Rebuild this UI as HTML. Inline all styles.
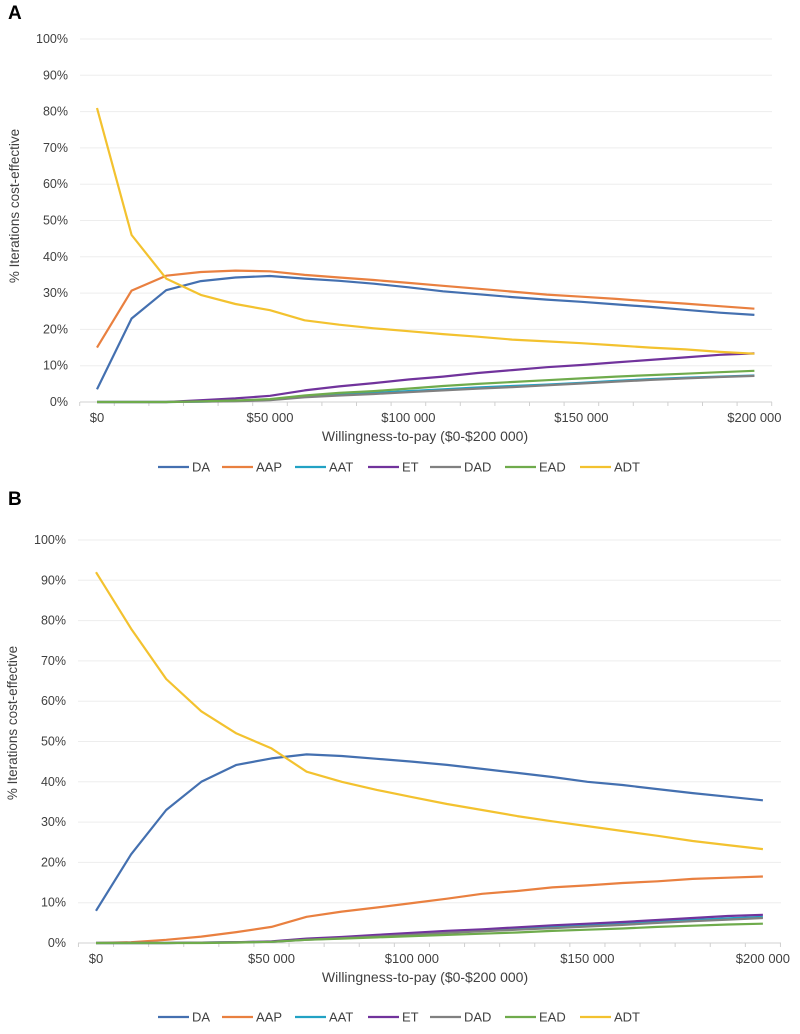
<!DOCTYPE html>
<html><head><meta charset="utf-8"><style>
body{margin:0;background:#fff;width:800px;height:1029px;overflow:hidden;font-family:"Liberation Sans",sans-serif}
svg text{font-family:"Liberation Sans",sans-serif;fill:#404040}
</style></head><body>
<svg id="chart" width="800" height="1029" viewBox="0 0 800 1029" xmlns="http://www.w3.org/2000/svg"></svg>
<script>
const categories = ["$0","$10 000","$20 000","$30 000","$40 000","$50 000","$60 000","$70 000","$80 000","$90 000","$100 000","$110 000","$120 000","$130 000","$140 000","$150 000","$160 000","$170 000","$180 000","$200 000"];
const seriesNames = ["DA","AAP","AAT","ET","DAD","EAD","ADT"];
const yTickLabels = ["0%","10%","20%","30%","40%","50%","60%","70%","80%","90%","100%"];
const xTickLabels = ["$0","$50 000","$100 000","$150 000","$200 000"];
const xTickIndex = [0,5,9,14,19];

const aDA  = [3.5,23,30.8,33.3,34.3,34.7,34,33.4,32.6,31.6,30.5,29.7,28.9,28.2,27.6,26.9,26.2,25.4,24.6,24];
const aAAP = [15,30.7,34.8,35.8,36.2,36,35,34.3,33.6,32.8,32,31.2,30.4,29.6,29,28.4,27.7,27.1,26.4,25.7];
const aAAT = [0,0,0,0.1,0.3,0.6,1.5,2,2.5,3,3.5,4,4.4,4.8,5.3,5.8,6.3,6.7,7,7.3];
const aET  = [0,0,0,0.5,1,1.7,3.2,4.3,5.2,6.2,7,8,8.8,9.6,10.2,10.9,11.6,12.3,13,13.4];
const aDAD = [0,0,0,0.1,0.2,0.5,1.3,1.8,2.2,2.7,3.2,3.7,4.1,4.6,5.1,5.6,6.1,6.5,6.9,7.2];
const aEAD = [0,0,0,0.2,0.4,0.8,1.8,2.5,3,3.7,4.4,5,5.5,6,6.5,7,7.4,7.8,8.2,8.6];
const aADT = [81,46,34,29.5,27,25.3,22.5,21.3,20.3,19.5,18.7,18,17.2,16.7,16.2,15.6,15,14.5,13.8,13.3];

const bDA  = [8,22,33,40,44.2,45.8,46.8,46.4,45.7,45,44.2,43.2,42.2,41.2,40,39.2,38.2,37.2,36.3,35.4];
const bAAP = [0,0.2,0.8,1.6,2.7,4,6.5,7.8,8.8,9.9,11,12.2,12.9,13.8,14.3,14.9,15.3,15.9,16.2,16.5];
const bAAT = [0,0,0,0.1,0.2,0.3,0.9,1.3,1.7,2.2,2.7,3.1,3.6,4,4.4,4.8,5.3,5.7,6.1,6.5];
const bET  = [0,0,0,0.1,0.2,0.4,1.1,1.5,2,2.5,3,3.4,3.9,4.4,4.8,5.2,5.7,6.2,6.7,7];
const bDAD = [0,0,0,0.1,0.2,0.3,0.8,1.2,1.6,2,2.5,2.9,3.3,3.7,4.1,4.5,5,5.4,5.8,6.2];
const bEAD = [0,0,0,0,0.1,0.3,0.8,1.1,1.4,1.7,2,2.3,2.6,3,3.3,3.6,4,4.3,4.6,4.8];
const bADT = [92,78,65.5,57.5,52,48.3,42.5,40,38,36.2,34.5,33,31.5,30.2,29,27.8,26.6,25.3,24.3,23.3];

const colors = {DA:"#4470B0",AAP:"#E98040",AAT:"#22A2C4",ET:"#71339C",DAD:"#808080",EAD:"#6FAB4C",ADT:"#F3C22F"};
const NS="http://www.w3.org/2000/svg";
const svg=document.getElementById('chart');
function mk(tag,attrs,parent){const e=document.createElementNS(NS,tag);for(const k in attrs)e.setAttribute(k,attrs[k]);(parent||svg).appendChild(e);return e;}

function panel(p){
  const g=mk('g',{});
  
  
  const t=mk('text',{x:8,y:p.labelY,'font-size':19,'font-weight':'bold',style:'fill:#000'},g);t.textContent=p.id;
  
  
  const y=v=>p.y0-(v/100)*(p.y0-p.y100);
  const x=i=>p.x0+i*p.dx;
  for(let k=0;k<yTickLabels.length;k++){
    const yy=y(k*10);
    if(k>0){const gl=mk('line',{x1:p.axL,x2:p.axR,y1:yy,y2:yy,stroke:'#EDEDED','stroke-width':1},g);
      
      }
    const tl=mk('text',{x:p.yLabX,y:yy+4,'text-anchor':'end','font-size':12.5},g);tl.textContent=yTickLabels[k];
    
    
  }
  const ax=mk('line',{x1:p.axL,x2:p.axR,y1:p.y0,y2:p.y0,stroke:'#D0D0D0','stroke-width':1},g);
  
  
  for(let i=0;i<=categories.length;i++){
    const xx=p.x0-p.dx/2+i*p.dx;
    const tk=mk('line',{x1:xx,x2:xx,y1:p.y0,y2:p.y0+4,stroke:'#D0D0D0'},g);
    
    
  }
  xTickLabels.forEach((s,j)=>{const tl=mk('text',{x:x(xTickIndex[j]),y:p.y0+20,'text-anchor':'middle','font-size':13},g);tl.textContent=s;
    
    });
  const xt=mk('text',{x:425,y:p.y0+39,'text-anchor':'middle','font-size':14},g);xt.textContent='Willingness-to-pay ($0-$200 000)';
  
  
  const yt=mk('text',{x:0,y:0,'text-anchor':'middle','font-size':13.5,transform:`translate(${p.yTitleX},${p.yTitleY}) rotate(-90)`},g);yt.textContent='% Iterations cost-effective';
  
  
  p.series.forEach((vals,si)=>{
    const name=seriesNames[si];
    const d=vals.map((v,i)=>(i?'L':'M')+x(i).toFixed(1)+' '+y(v).toFixed(1)).join(' ');
    const pl=mk('path',{d:d,fill:'none',stroke:colors[name],'stroke-width':2.2,'stroke-linejoin':'round'},g);
    
    
  });
  const legX=[158,222,295,368,430,505,580];
  seriesNames.forEach((name,si)=>{
    const lg=mk('g',{},g);
    
    
    mk('line',{x1:legX[si],x2:legX[si]+31,y1:p.legY,y2:p.legY,stroke:colors[name],'stroke-width':2.2},lg);
    const lt=mk('text',{x:legX[si]+34,y:p.legY+4.5,'font-size':13},lg);lt.textContent=name;
  });
}
panel({id:'A',labelY:19,series:[aDA,aAAP,aAAT,aET,aDAD,aEAD,aADT],y0:402,y100:39,x0:97,dx:34.6,axL:80,axR:772,yLabX:68,yTitleX:19,yTitleY:206,legY:467});
panel({id:'B',labelY:505,series:[bDA,bAAP,bAAT,bET,bDAD,bEAD,bADT],y0:943,y100:540,x0:96,dx:35.1,axL:78,axR:781,yLabX:66,yTitleX:17,yTitleY:723,legY:1017});
</script>
</body></html>
